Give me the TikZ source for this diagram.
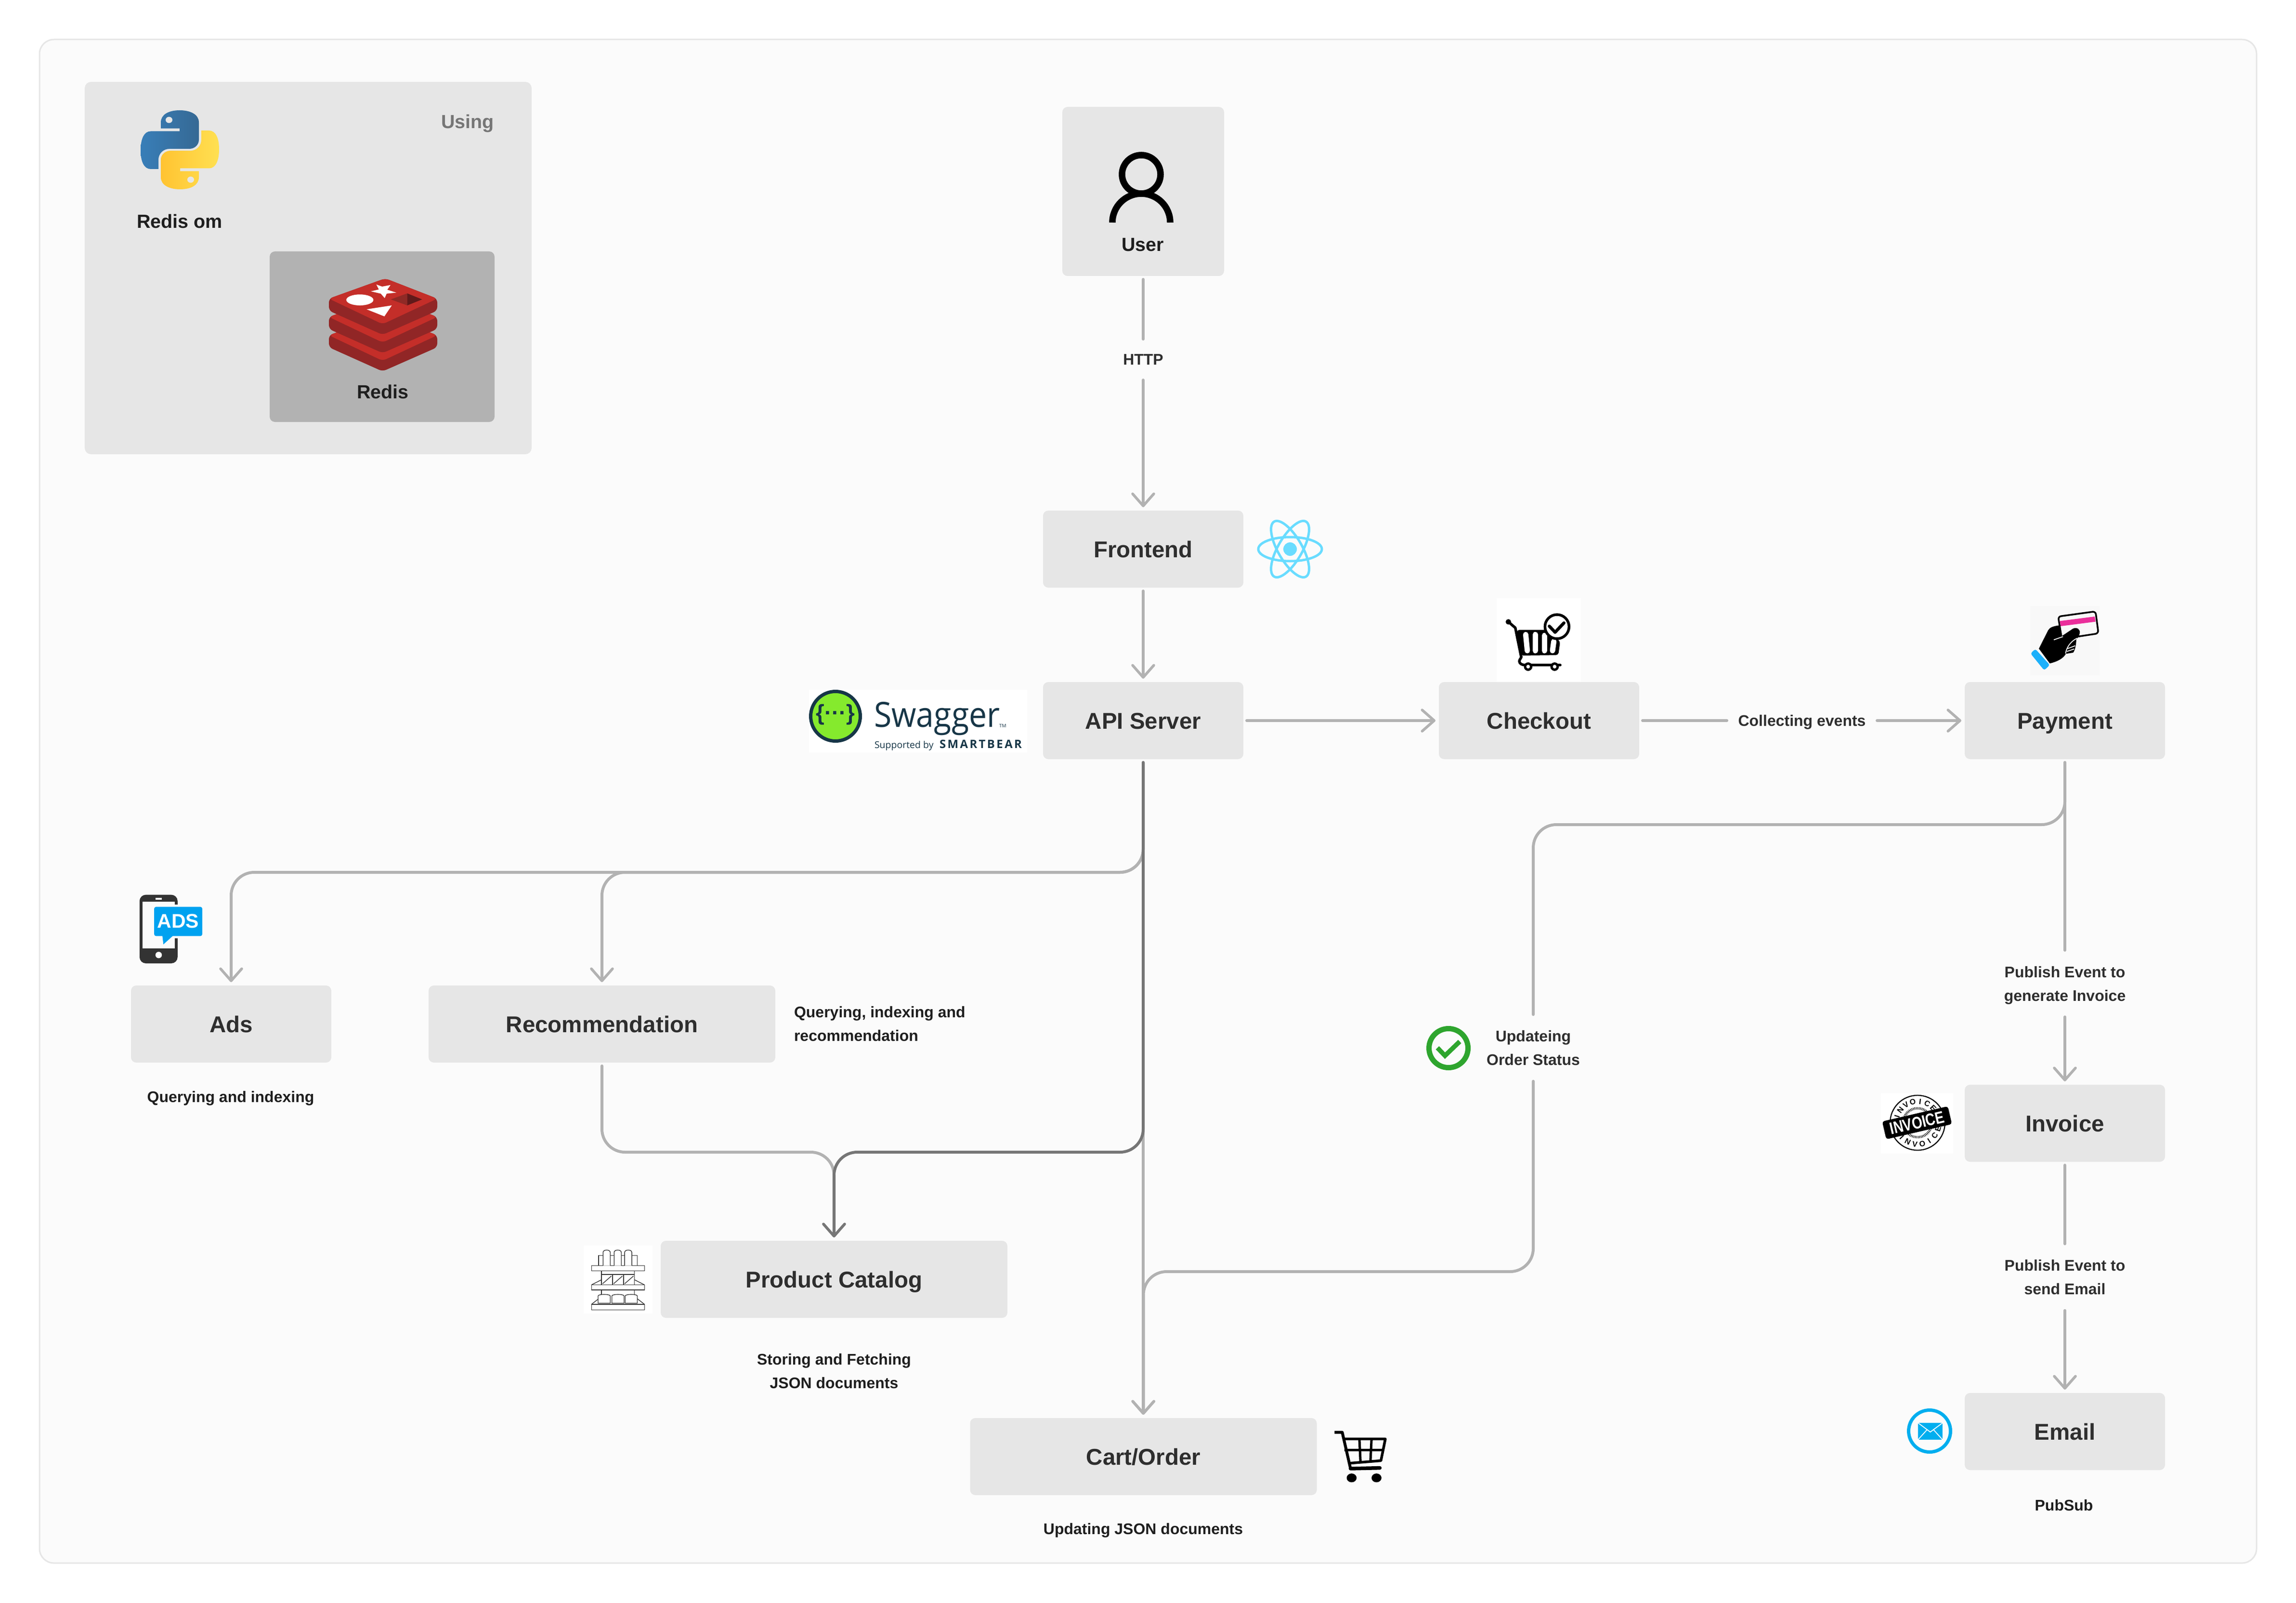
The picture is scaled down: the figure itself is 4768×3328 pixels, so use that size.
\documentclass[tikz,border=0pt]{standalone}
\usepackage{graphicx}
\usepackage{fontspec}
\setmainfont{Liberation Sans}
\newfontfamily\swagfont{Open Sans}
\newfontfamily\smartfont[LetterSpace=14]{Open Sans}
\usetikzlibrary{arrows.meta}
\definecolor{pagebg}{HTML}{FBFBFB}
\definecolor{boxg}{HTML}{E6E6E6}
\definecolor{darkbox}{HTML}{B2B2B2}
\definecolor{lineg}{HTML}{B2B2B2}
\definecolor{lined}{HTML}{767676}
\definecolor{ttl}{HTML}{2E2E2E}
\definecolor{cap}{HTML}{1E1E1E}
\definecolor{pyb1}{HTML}{387EB8}
\definecolor{pyb2}{HTML}{366994}
\definecolor{pyy1}{HTML}{FFE052}
\definecolor{pyy2}{HTML}{FFC331}
\definecolor{rred}{HTML}{C42E29}
\definecolor{rdark}{HTML}{912626}
\definecolor{rcube}{HTML}{8F2A26}
\definecolor{rcubed}{HTML}{611A1A}
\definecolor{cardbg}{HTML}{F8F8F8}
\definecolor{reactc}{HTML}{69DCFF}
\definecolor{swag}{HTML}{173647}
\definecolor{swagg}{HTML}{85EA2D}
\definecolor{adsb}{HTML}{00A2F0}
\definecolor{phone}{HTML}{333333}
\definecolor{okg}{HTML}{2EA52E}
\definecolor{mailb}{HTML}{00AEEF}
\definecolor{pinkc}{HTML}{EA2F9B}
\definecolor{cuffb}{HTML}{1CB0FA}
\tikzset{
  zm/.style n args={4}{shift={(#1,#2)},x=0.2pt/#3,y=-0.2pt/#4},
  svcbox/.style={fill=boxg,rounded corners=2.2pt,minimum width=83.2pt,minimum height=32pt,inner sep=0pt,
    font=\fontsize{9.5}{11.4}\selectfont\bfseries,text=ttl,text height=6.8pt,text depth=0pt},
  widebox/.style={svcbox,minimum width=144pt},
  plain/.style={fill=boxg,rounded corners=2.2pt,inner sep=0pt},
  midtxt/.style={inner sep=0pt,font=\fontsize{7.9}{9.5}\selectfont\bfseries,text=cap,text height=5.65pt,text depth=0pt},
  captxt/.style={inner sep=0pt,font=\fontsize{6.4}{9.8}\selectfont\bfseries,text=cap,text height=4.6pt,text depth=0pt},
  captwo/.style={captxt,align=center,text height=14.4pt},
  connlbl/.style={inner sep=0pt,font=\fontsize{6.4}{9.8}\selectfont\bfseries,text=ttl,text height=4.6pt,text depth=0pt},
  connlbltwo/.style={connlbl,align=center,text height=14.4pt,minimum height=27.3pt},
  conn/.style={draw=lineg,line width=1.2pt,line cap=round},
  conndark/.style={conn,draw=lined},
  fromgap/.style={shorten <=1.2pt},
  togap/.style={shorten >=1.2pt},
  tip/.style={-{Straight Barb[length=5pt,width=8.8pt,line width=1.1pt,round]}},
  bendr/.style={rounded corners=9.6pt},
}
\newcommand{\pysnake}{(334,254) .. controls (334,238) and (350,229) .. (373,229) .. controls (396,229) and (413,238) .. (413,254) -- (413,290) .. controls (413,301) and (404,309) .. (393,309) -- (352,309) .. controls (339,309) and (329,319) .. (329,332) -- (329,351) -- (313,351) .. controls (299,351) and (292,335) .. (292,312) .. controls (292,289) and (299,272.5) .. (313,272.5) -- (373,272.5) -- (373,266.6) -- (334,266.6) -- cycle}
\begin{document}
\begin{tikzpicture}[x=0.2pt,y=-0.2pt]
\useasboundingbox (0,0) rectangle (4768,3328);
\fill[white] (0,0) rectangle (4768,3328);
\filldraw[fill=pagebg,draw=boxg,line width=0.6pt,rounded corners=6pt] (82,82) rectangle (4686,3245);

% ---------- legend panel
\node[plain,minimum width=185.6pt,minimum height=154.6pt,rounded corners=2.6pt] (usingpanel) at (640,556.5) {};
\node[plain,fill=darkbox,minimum width=93.4pt,minimum height=70.8pt] (redisbox) at (793.5,699) {};
\node[midtxt,text=lined] (usinglbl) at (971,252) {Using};
\node[midtxt] (redisomlbl) at (373,459) {Redis om};
\node[midtxt] (redislbl) at (795,813) {Redis};
% python logo
\shade[left color=pyb1,right color=pyb2] \pysnake;
\begin{scope}[rotate around={180:(373.5,311)}]
\shade[left color=pyy2,right color=pyy1] \pysnake;
\end{scope}
\fill[boxg] (351,249) ellipse [x radius=7,y radius=6.5];
\fill[boxg] (396,373) ellipse [x radius=7,y radius=6.5];
% redis logo
\foreach \d in {76,38,0}{
  \begin{scope}[shift={(0,\d)}]
  \fill[rdark,rounded corners=1.6pt] (683,620) -- (683,645) -- (794.5,695) -- (908,645) -- (908,620) -- (800,578) -- cycle;
  \fill[rred,rounded corners=1.6pt] (683,620) -- (800,578) -- (908,620) -- (794.5,673) -- cycle;
  \end{scope}
}
\begin{scope}[zm={120}{130}{1.493}{1.845}]
\fill[white] (988,850) -- (1006,858) -- (1032,852) -- (1022,870) -- (1050,881) -- (1020,885) -- (1014,902) -- (1002,885) -- (971,876) -- (996,869) -- cycle;
\fill[white] (937,909) ellipse [x radius=42,y radius=21];
\fill[white] (958,945) -- (1036,930) -- (1013,972) -- cycle;
\fill[rcube] (1033,907) -- (1084,884) -- (1084,930) -- cycle;
\fill[rcubed] (1084,884) -- (1130,907) -- (1084,930) -- cycle;
\end{scope}

% ---------- service boxes
\node[plain,minimum width=67.2pt,minimum height=70.2pt] (user) at (2374,397.5) {};
\node[midtxt] (userlbl) at (2373,507) {User};
\node[svcbox] (frontend) at (2374,1140) {Frontend};
\node[svcbox] (api) at (2374,1496) {API Server};
\node[svcbox] (checkout) at (3196,1496) {Checkout};
\node[svcbox] (payment) at (4288,1496) {Payment};
\node[svcbox] (ads) at (480,2126) {Ads};
\node[widebox] (reco) at (1250,2126) {Recommendation};
\node[svcbox] (invoice) at (4288,2332) {Invoice};
\node[svcbox] (email) at (4288,2972) {Email};
\node[widebox] (catalog) at (1732,2656) {Product Catalog};
\node[widebox] (cart) at (2374.5,3024) {Cart/Order};

% ---------- captions
\node[captxt] (adscap) at (479,2277) {Querying and indexing};
\node[captxt,align=left,text height=14.4pt,anchor=west] (recocap) at (1648,2125.5) {Querying, indexing and\\recommendation};
\node[captwo] (catcap) at (1732,2846) {Storing and Fetching\\JSON documents};
\node[captxt] (cartcap) at (2374,3174) {Updating JSON documents};
\node[captxt] (pubsub) at (4286,3125) {PubSub};

% ---------- connector labels (they hold the gaps in the lines)
\node[connlbl,minimum width=17pt,minimum height=16.6pt] (http) at (2374,746.5) {HTTP};
\node[connlbl,minimum width=62pt,minimum height=10pt] (collect) at (3742,1496) {Collecting events};
\node[connlbltwo] (pubinv) at (4288,2042) {Publish Event to\\generate Invoice};
\node[connlbltwo] (pubmail) at (4288,2651.5) {Publish Event to\\send Email};
\node[connlbltwo] (upd) at (3184,2175.5) {Updateing\\Order Status};

% ---------- connectors
\coordinate (busadsy) at (0,1811);
\coordinate (busprody) at (0,2392);
\coordinate (payby) at (0,1712);
\coordinate (updby) at (0,2640);
\draw[conn,fromgap] (user.south) -- (http.north);
\draw[conn,tip,togap] (http.south) -- (frontend.north);
\draw[conn,tip,fromgap,togap] (frontend.south) -- (api.north);
\draw[conn,tip,fromgap,togap] (api.east) -- (checkout.west);
\draw[conn,fromgap] (checkout.east) -- (collect.west);
\draw[conn,tip,togap] (collect.east) -- (payment.west);
\draw[conn,fromgap] (payment.south) -- (pubinv.north);
\draw[conn,tip,togap] (pubinv.south) -- (invoice.north);
\draw[conn,fromgap] (invoice.south) -- (pubmail.north);
\draw[conn,tip,togap] (pubmail.south) -- (email.north);
\draw[conn,bendr,fromgap] (payment.south) -- (payment.south |- payby) -- (upd.north |- payby) -- (upd.north);
\draw[conn,bendr,tip,togap] (upd.south) -- (upd.south |- updby) -- (cart.north |- updby) -- (cart.north);
\draw[conn,tip,fromgap,togap] (api.south) -- (api.south |- cart.north);
\draw[conn,bendr,tip,fromgap,togap] (api.south) -- (api.south |- busadsy) -- (ads.north |- busadsy) -- (ads.north);
\draw[conn,bendr,tip,fromgap,togap] (api.south) -- (api.south |- busadsy) -- (reco.north |- busadsy) -- (reco.north);
\draw[conn,bendr,tip,fromgap,togap] (reco.south) -- (reco.south |- busprody) -- (catalog.north |- busprody) -- (catalog.north);
\draw[conndark,bendr,tip,fromgap,togap] (api.south) -- (api.south |- busprody) -- (catalog.north |- busprody) -- (catalog.north);

% ---------- user icon
\draw[black,line width=2.7pt] (2370,362) circle [radius=40];
\draw[black,line width=2.7pt] (2310,462) arc [start angle=180,end angle=360,x radius=60,y radius=60];

% ---------- react icon
\begin{scope}[draw=reactc,line width=1pt]
\draw (2679,1140) ellipse [x radius=66,y radius=25];
\draw[rotate around={60:(2679,1140)}] (2679,1140) ellipse [x radius=66,y radius=25];
\draw[rotate around={-60:(2679,1140)}] (2679,1140) ellipse [x radius=66,y radius=25];
\end{scope}
\fill[reactc] (2679,1140) circle [radius=14];

% ---------- swagger logo
\fill[white] (1680,1432) rectangle (2133,1562);
\filldraw[fill=swagg,draw=swag,line width=1.4pt] (1735,1487) circle [radius=51.5];
\node[inner sep=0pt,text=swag,font=\fontsize{9.2}{11}\selectfont\bfseries] (swagbrace) at (1735,1484) {\{···\}};
\node[inner sep=0pt,anchor=base west,text=swag,font=\fontsize{14.4}{16}\selectfont\swagfont] (swagname) at (1814,1509) {\scalebox{.92}[1]{Swagger}};
\node[inner sep=0pt,anchor=base west,text=swag,font=\fontsize{2}{3}\selectfont\swagfont] (swagtm) at (2074,1510) {TM};
\node[inner sep=0pt,anchor=base west,text=swag,font=\fontsize{3.9}{5}\selectfont\swagfont] (swagsup) at (1815,1553) {Supported by};
\node[inner sep=0pt,anchor=base west,text=swag,font=\fontsize{4.8}{6}\selectfont\smartfont\bfseries] (swagbear) at (1950,1553) {SMARTBEAR};

% ---------- checkout icon
\begin{scope}[zm={3100}{1240}{3}{3}]
\fill[white] (25,5) rectangle (548,528);
\draw[black,line width=1.1pt,line cap=round,line join=round] (97,153) -- (140,190) -- (175,362) .. controls (185,375) and (165,385) .. (165,398) .. controls (165,415) and (185,422) .. (200,422) -- (420,422);
\fill[black] (97,153) circle [radius=17];
\fill[black,rounded corners=1pt] (150,203) -- (330,203) -- (420,275) -- (408,360) -- (175,363) -- cycle;
\draw[white,line width=2.2pt,line cap=round] (205,232) -- (215,333);
\draw[white,line width=2.2pt,line cap=round] (265,232) -- (265,333);
\draw[white,line width=2.2pt,line cap=round] (322,238) -- (322,333);
\draw[white,line width=2.2pt,line cap=round] (380,275) -- (372,333);
\filldraw[fill=white,draw=black,line width=1.1pt] (400,183) circle [radius=75];
\draw[black,line width=1.3pt,line cap=round,line join=round] (352,180) -- (388,218) -- (443,160);
\filldraw[fill=white,draw=black,line width=1pt] (220,432) circle [radius=19];
\filldraw[fill=white,draw=black,line width=1pt] (385,432) circle [radius=19];
\end{scope}

% ---------- payment icon
\begin{scope}[zm={4210}{1250}{3}{3}]
\fill[cardbg] (18,25) rectangle (450,455);
\draw[black,line width=0.7pt,rounded corners=1.2pt] (192,90) -- (425,58) -- (443,195) -- (215,230) -- cycle;
\fill[pinkc] (202,118) -- (420,90) -- (425,122) -- (208,150) -- cycle;
\fill[black] (72,290) -- (130,175) .. controls (140,158) and (160,150) .. (198,145) -- (213,213) -- (285,165) .. controls (310,155) and (332,170) .. (326,195) .. controls (322,215) and (312,225) .. (305,232) .. controls (305,270) and (295,305) .. (285,315) -- (240,322) .. controls (225,350) and (190,370) .. (140,382) -- cycle;
\draw[white,line width=0.35pt] (165,235) -- (222,215);
\draw[white,line width=0.35pt] (238,320) .. controls (245,280) and (270,245) .. (310,225);
\draw[white,line width=0.35pt] (250,290) -- (298,272);
\draw[white,line width=0.35pt] (245,308) -- (292,292);
\fill[cuffb,rounded corners=0.8pt] (50,292) -- (140,392) -- (105,425) -- (20,320) -- cycle;
\end{scope}

% ---------- ads icon
\begin{scope}[zm={230}{1820}{2.24}{3}]
\fill[phone,rounded corners=2.6pt] (134,113) rectangle (311,540);
\fill[pagebg] (147,155) rectangle (298,446);
\fill[pagebg] (298,175) rectangle (312,383);
\fill[white] (209,132) rectangle (237,143);
\fill[white] (223,488) ellipse [x radius=15,y radius=20];
\fill[adsb,rounded corners=0.8pt] (202,188) rectangle (426,370);
\fill[adsb] (240,365) -- (245,422) -- (292,365) -- cycle;
\end{scope}
\node[inner sep=0pt,text=white,font=\fontsize{8.2}{10}\selectfont\bfseries] (adsword) at (370,1912) {ADS};

% ---------- shelf icon
\begin{scope}[zm={1180}{2500}{0.871}{2.178}]
\fill[white] (28,187) rectangle (152,495);
\begin{scope}[draw=phone,line width=0.28pt]
\draw (42,278) rectangle (138,302);
\draw (42,365) rectangle (138,388);
\draw (42,453) rectangle (138,478);
\draw (55,278) -- (55,232) -- (125,232) -- (125,278);
\foreach \xb in {63,83,102}{
 \filldraw[fill=white] (\xb,278) -- (\xb,218) .. controls (\xb,204) and (\xb+13,204) .. (\xb+13,218) -- (\xb+13,278);
}
\draw (60,302) -- (60,318) (120,302) -- (120,318);
\draw (60,318) rectangle (120,365);
\draw (80,318) -- (80,365) (100,318) -- (100,365);
\draw (62,360) -- (78,325) (82,360) -- (98,325) (102,360) -- (118,325);
\draw (42,365) -- (60,342) (138,365) -- (120,342);
\draw (60,388) -- (60,410) (120,388) -- (120,410);
\draw (42,453) -- (60,418) (138,453) -- (120,418);
\foreach \xb in {65,90,114}{
 \filldraw[fill=white] (\xb-11,448) -- (\xb-11,415) arc [start angle=180,end angle=360,x radius=11,y radius=7] -- (\xb+11,448) -- cycle;
}
\end{scope}
\end{scope}

% ---------- cart icon
\begin{scope}[zm={1180}{2500}{0.871}{2.178}]
\draw[black,line width=1.2pt,line join=round] (1386,1032) -- (1400,1032) -- (1415,1196);
\draw[black,line width=1.5pt,line cap=round] (1415,1196) -- (1468,1193);
\draw[black,line width=1.1pt,line join=round] (1402,1062) -- (1478,1062) -- (1470,1160) -- (1411,1172);
\draw[black,line width=1pt] (1431,1062) -- (1433,1165) (1453,1062) -- (1451,1163) (1404,1112) -- (1474,1112);
\fill[black] (1417,1238) ellipse [x radius=9,y radius=20];
\fill[black] (1462,1238) ellipse [x radius=9,y radius=20];
\end{scope}

% ---------- invoice stamp
\fill[white] (3906,2270) rectangle (4056,2395);
\draw[black,line width=0.45pt] (3982,2331) circle [radius=57];
\draw[black,line width=1pt,dash pattern=on 0.25pt off 0.35pt] (3982,2331) circle [radius=30];
\foreach \c [count=\i] in {I,N,V,O,I,C,E}{
  \pgfmathsetmacro\angtop{103+(4-\i)*20}
  \pgfmathsetmacro\angbot{283-(4-\i)*20}
  \node[inner sep=0pt,rotate=\angtop-90,font=\fontsize{3.2}{4}\selectfont\bfseries] (stamptop\i) at ([shift={(\angtop:8.9pt)}]3982,2331) {\c};
  \node[inner sep=0pt,rotate=\angbot+90,font=\fontsize{3.2}{4}\selectfont\bfseries] (stampbot\i) at ([shift={(\angbot:8.9pt)}]3982,2331) {\c};
}
\node[rotate=13,fill=black,rounded corners=1pt,minimum width=28pt,minimum height=7.6pt,inner sep=0pt,text=white,font=\fontsize{7}{8}\selectfont\bfseries] (stampword) at (3981,2331) {\scalebox{.8}[1]{INVOICE}};

% ---------- mail icon
\draw[mailb,line width=1.4pt] (4007,2971) circle [radius=43.5];
\fill[mailb] (3983,2954) rectangle (4034,2989);
\draw[white,line width=0.35pt] (3983,2954) -- (4008.5,2973) -- (4034,2954);
\draw[white,line width=0.35pt] (3983,2989) -- (4002,2968) (4034,2989) -- (4015,2968);

% ---------- tick icon
\draw[okg,line width=2.2pt] (3008,2176) circle [radius=40.5];
\draw[okg,line width=1.9pt] (2985,2175.3) -- (3000.7,2191.7) -- (3031.3,2162.3);
\end{tikzpicture}
\end{document}
